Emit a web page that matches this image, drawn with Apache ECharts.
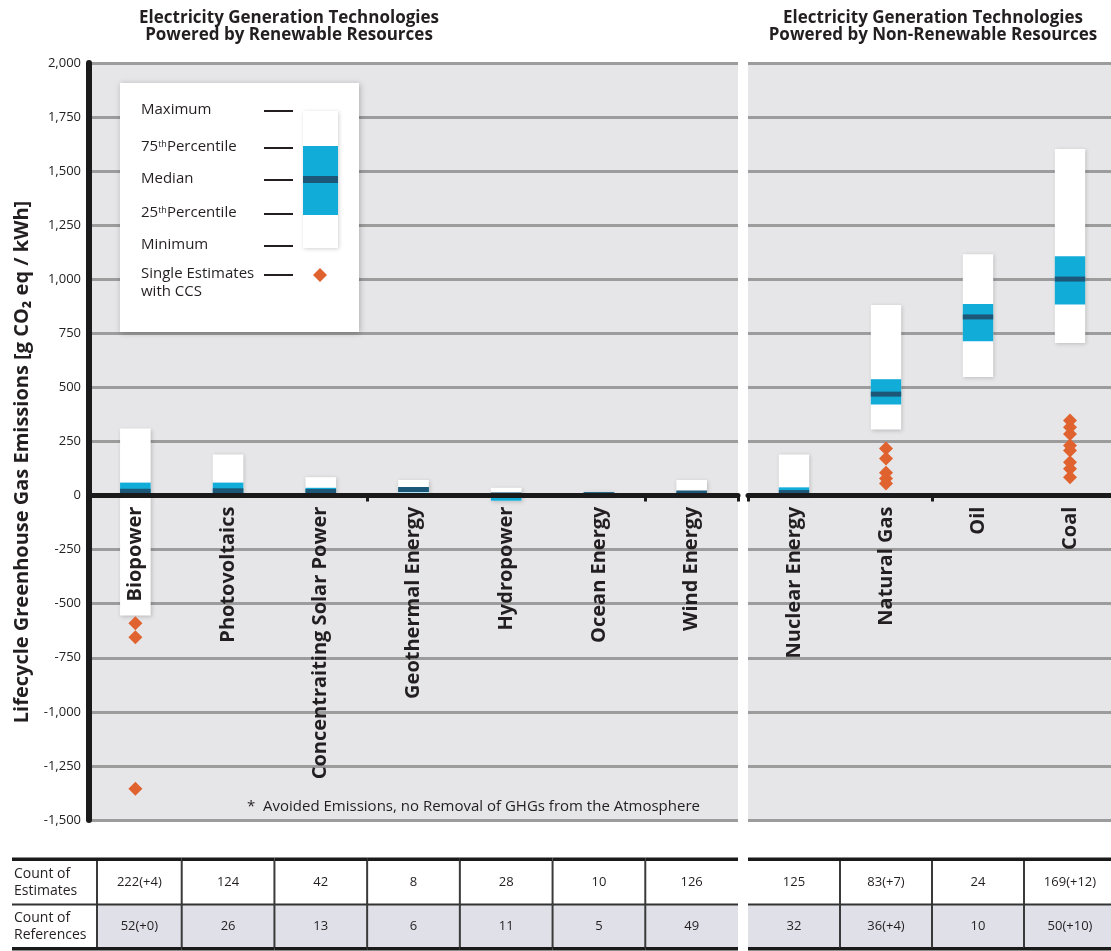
<!DOCTYPE html>
<html><head><meta charset="utf-8">
<script src="https://cdn.jsdelivr.net/npm/echarts@6/dist/echarts.min.js"></script>
<style>html,body{margin:0;padding:0;background:#fff}#c{width:1111px;height:951px}</style>
</head><body><div id="c"></div>
<script>
// ---------- DATA ----------
const renewCats = ['Biopower','Photovoltaics','Concentraiting Solar Power','Geothermal Energy','Hydropower','Ocean Energy','Wind Energy'];
const nonRenewCats = ['Nuclear Energy','Natural Gas','Oil','Coal'];
// [minimum, 25th percentile, median, 75th percentile, maximum]  g CO2 eq / kWh
const biopower      = [-555, 10, 20, 60, 310];
const photovoltaics = [5, 12, 22, 60, 190];
const csp           = [5, 8, 19, 36, 85];
const geothermal    = [6, 15, 28, 38, 72];
const hydropower    = [-24, -24, 3, 6, 36];
const ocean         = [2, 6, 10, 14, 16];
const wind          = [2, 8, 12, 16, 72];
const nuclear       = [1, 8, 14, 38, 190];
const naturalGas    = [305, 421, 469, 538, 881];
const oil           = [548, 714, 826, 886, 1116];
const coal          = [705, 883, 1001, 1107, 1602];
const renewStats = [biopower, photovoltaics, csp, geothermal, hydropower, ocean, wind];
const nonRenewStats = [nuclear, naturalGas, oil, coal];
// single estimates with CCS: [category index, value]
const renewCCS = [[0, -590], [0, -655], [0, -1355]];
const nonRenewCCS = [[1, 218], [1, 171], [1, 106], [1, 79], [1, 56],
                     [3, 347], [3, 316], [3, 285], [3, 231], [3, 208], [3, 154], [3, 124], [3, 85]];
const yMin = -1500, yMax = 2000, yStep = 250;
const rowLabels = ['Count of\nEstimates', 'Count of\nReferences'];
const renewEstimates = ['222(+4)', '124', '42', '8', '28', '10', '126'];
const renewReferences = ['52(+0)', '26', '13', '6', '11', '5', '49'];
const nonRenewEstimates = ['125', '83(+7)', '24', '169(+12)'];
const nonRenewReferences = ['32', '36(+4)', '10', '50(+10)'];
const yTitle = 'Lifecycle Greenhouse Gas Emissions [g CO\u2082 eq / kWh]';
const panelTitles = ['Electricity Generation Technologies\nPowered by Renewable Resources',
                     'Electricity Generation Technologies\nPowered by Non-Renewable Resources'];
const footnote = '*  Avoided Emissions, no Removal of GHGs from the Atmosphere';

// ---------- STYLE ----------
const FONT = "'Open Sans', 'DejaVu Sans', sans-serif";
const TXT = '#231f20';
const BLUE = '#12acd9', DARK = '#1d5777', WHITE = '#ffffff', CCS = '#e0622f';
const BG = '#e6e6e8', GRIDLINE = '#9c9c9c', AXIS = '#1a1a1a';

function makeBoxRenderer(cats) {
  return function (params, api) {
    const x = api.value(0);
    const mn = api.value(1), q1 = api.value(2), md = api.value(3), q3 = api.value(4), mx = api.value(5);
    const w = api.size([1, 0])[0] * 0.33;
    const pMin = api.coord([x, mn]), pMax = api.coord([x, mx]);
    const pQ1 = api.coord([x, q1]), pQ3 = api.coord([x, q3]), pMd = api.coord([x, md]);
    const pZero = api.coord([x, 0]);
    const cx = pMin[0], left = cx - w / 2;
    const mTop = Math.max(pMd[1] - 2.5, pMax[1]);
    const mBot = Math.min(pMd[1] + 2.5, pMin[1]);
    return {
      type: 'group',
      children: [
        { type: 'rect', shape: { x: left, y: pMax[1], width: w, height: pMin[1] - pMax[1] },
          style: { fill: WHITE, shadowBlur: 4, shadowColor: 'rgba(0,0,0,0.18)', shadowOffsetX: 1, shadowOffsetY: 1 } },
        { type: 'rect', shape: { x: left, y: pQ3[1], width: w, height: pQ1[1] - pQ3[1] }, style: { fill: BLUE } },
        { type: 'rect', shape: { x: left, y: mTop, width: w, height: Math.max(0, mBot - mTop) }, style: { fill: DARK } },
        { type: 'text', x: cx, y: pZero[1] + 11, rotation: Math.PI / 2,
          style: { text: cats[params.dataIndex], fill: TXT, fontSize: 20, fontWeight: 'bold', fontFamily: FONT,
                   align: 'right', textAlign: 'right', verticalAlign: 'middle', textVerticalAlign: 'middle' } }
      ]
    };
  };
}

function makeCellRenderer(rowsText, withLabels) {
  return function (params, api) {
    const c = api.value(0), r = api.value(1);
    const p = api.coord([c, r]);
    const s = api.size([1, 1]);
    let x0 = p[0] - s[0] / 2;
    const x1 = p[0] + s[0] / 2;
    const y0 = p[1] - s[1] / 2, y1 = p[1] + s[1] / 2;
    const children = [];
    let lineLeft = x0;
    if (withLabels && c === 0) {
      x0 += 8;
      lineLeft = 12;
      children.push({ type: 'rect', shape: { x: 12, y: y0, width: x0 - 12, height: y1 - y0 }, style: { fill: '#fff' } });
      children.push({ type: 'text', x: 14, y: p[1],
        style: { text: rowLabels[r], fill: TXT, fontSize: 14, fontFamily: FONT, lineHeight: 17,
                 verticalAlign: 'middle', textVerticalAlign: 'middle', align: 'left', textAlign: 'left' } });
    }
    children.push({ type: 'rect', shape: { x: x0, y: y0, width: x1 - x0, height: y1 - y0 },
      style: { fill: r === 1 ? '#e0e0e9' : '#ffffff' } });
    children.push({ type: 'text', x: (x0 + x1) / 2, y: p[1],
      style: { text: rowsText[r][c], fill: TXT, fontSize: 13, fontFamily: FONT,
               align: 'center', textAlign: 'center', verticalAlign: 'middle', textVerticalAlign: 'middle' } });
    if (c > 0 || withLabels) {
      children.push({ type: 'rect', shape: { x: x0 - 1, y: y0, width: 2, height: y1 - y0 }, style: { fill: '#3a3a3a' } });
    }
    if (r === 0) {
      children.push({ type: 'rect', shape: { x: lineLeft, y: y0 - 3.5, width: x1 - lineLeft, height: 3.5 }, style: { fill: AXIS } });
    } else {
      children.push({ type: 'rect', shape: { x: lineLeft, y: y0 - 1, width: x1 - lineLeft, height: 2 }, style: { fill: '#333' } });
      children.push({ type: 'rect', shape: { x: lineLeft, y: y1 - 1, width: x1 - lineLeft, height: 3.5 }, style: { fill: AXIS } });
    }
    return { type: 'group', children: children };
  };
}

function plotX(gridIndex, cats) {
  return {
    type: 'category', gridIndex: gridIndex, data: cats, z: 10,
    axisLine: { onZero: true, lineStyle: { color: AXIS, width: 5 } },
    axisTick: { show: true, length: 6, lineStyle: { color: AXIS, width: 3 } },
    axisLabel: { show: false },
    splitLine: { show: false }
  };
}
function plotY(gridIndex, showAxis) {
  return {
    type: 'value', gridIndex: gridIndex, min: yMin, max: yMax, interval: yStep,
    axisLine: { show: showAxis, lineStyle: { color: AXIS, width: 6 } },
    axisTick: { show: false },
    axisLabel: { show: showAxis, fontSize: 13, color: '#222', margin: 8, fontFamily: FONT,
                 formatter: v => v.toLocaleString('en-US') },
    splitLine: { show: true, lineStyle: { color: GRIDLINE, width: 3 } }
  };
}
function tableX(gridIndex, cats) {
  return { type: 'category', gridIndex: gridIndex, data: cats, show: false };
}
function tableY(gridIndex) {
  return { type: 'category', gridIndex: gridIndex, data: ['Estimates', 'References'], inverse: true, show: false };
}

const legendY = { max: 111, q3: 148, med: 180, q1: 214, min: 246, ccs: 275 };
const supRich = { s: { fontSize: 9, verticalAlign: 'top', fontFamily: FONT, fill: TXT, color: TXT } };
function legendText(y, text, rich) {
  return { type: 'text', x: 141, y: y, z: 21,
    style: { text: text, fill: TXT, fontSize: 15, fontFamily: FONT, verticalAlign: 'middle', textVerticalAlign: 'middle', rich: rich } };
}
function legendLine(y, x0) {
  return { type: 'rect', z: 21, shape: { x: x0 || 264, y: y - 1, width: 293 - (x0 || 264), height: 2 }, style: { fill: TXT } };
}

const option = {
  backgroundColor: '#ffffff',
  animation: false,
  grid: [
    { left: 89, top: 63, width: 649, height: 757, show: true, backgroundColor: BG, borderWidth: 0, outerBoundsMode: 'none', containLabel: false },
    { left: 748, top: 63, width: 368, height: 757, show: true, backgroundColor: BG, borderWidth: 0, outerBoundsMode: 'none', containLabel: false },
    { left: 89, top: 861, width: 649, height: 87, outerBoundsMode: 'none', containLabel: false },
    { left: 748, top: 861, width: 368, height: 87, outerBoundsMode: 'none', containLabel: false }
  ],
  xAxis: [plotX(0, renewCats), plotX(1, nonRenewCats), tableX(2, renewCats), tableX(3, nonRenewCats)],
  yAxis: [plotY(0, true), plotY(1, false), tableY(2), tableY(3)],
  series: [
    { type: 'custom', xAxisIndex: 0, yAxisIndex: 0, z: 2, clip: false, renderItem: makeBoxRenderer(renewCats),
      encode: { x: 0, y: [1, 2, 3, 4, 5] }, data: renewStats.map((s, i) => [i].concat(s)) },
    { type: 'custom', xAxisIndex: 1, yAxisIndex: 1, z: 2, clip: false, renderItem: makeBoxRenderer(nonRenewCats),
      encode: { x: 0, y: [1, 2, 3, 4, 5] }, data: nonRenewStats.map((s, i) => [i].concat(s)) },
    { type: 'scatter', xAxisIndex: 0, yAxisIndex: 0, z: 3, symbol: 'diamond', symbolSize: 14,
      itemStyle: { color: CCS, opacity: 1 }, data: renewCCS },
    { type: 'scatter', xAxisIndex: 1, yAxisIndex: 1, z: 3, symbol: 'diamond', symbolSize: 14,
      itemStyle: { color: CCS, opacity: 1 }, data: nonRenewCCS },
    { type: 'custom', xAxisIndex: 2, yAxisIndex: 2, clip: false,
      renderItem: makeCellRenderer([renewEstimates, renewReferences], true),
      encode: { x: 0, y: 1 },
      data: [].concat(renewEstimates.map((_, i) => [i, 0]), renewReferences.map((_, i) => [i, 1])) },
    { type: 'custom', xAxisIndex: 3, yAxisIndex: 3, clip: false,
      renderItem: makeCellRenderer([nonRenewEstimates, nonRenewReferences], false),
      encode: { x: 0, y: 1 },
      data: [].concat(nonRenewEstimates.map((_, i) => [i, 0]), nonRenewReferences.map((_, i) => [i, 1])) }
  ],
  graphic: [
    { type: 'text', x: 289, y: 10, z: 30,
      style: { text: panelTitles[0], fill: TXT, fontSize: 17, fontWeight: 'bold', fontFamily: FONT, lineHeight: 17,
               align: 'center', textAlign: 'center' } },
    { type: 'text', x: 933, y: 10, z: 30,
      style: { text: panelTitles[1], fill: TXT, fontSize: 17, fontWeight: 'bold', fontFamily: FONT, lineHeight: 17,
               align: 'center', textAlign: 'center' } },
    { type: 'text', x: 22, y: 462, rotation: Math.PI / 2, z: 30,
      style: { text: yTitle, fill: TXT, fontSize: 20, fontWeight: 'bold', fontFamily: FONT,
               align: 'center', textAlign: 'center', verticalAlign: 'middle', textVerticalAlign: 'middle' } },
    { type: 'text', x: 247, y: 807, z: 30,
      style: { text: footnote, fill: TXT, fontSize: 15, fontFamily: FONT, verticalAlign: 'middle', textVerticalAlign: 'middle' } },
    // legend
    { type: 'rect', z: 20, shape: { x: 120, y: 83, width: 239, height: 249 },
      style: { fill: '#ffffff', shadowBlur: 6, shadowColor: 'rgba(0,0,0,0.25)', shadowOffsetX: 1, shadowOffsetY: 1 } },
    legendText(legendY.max - 1, 'Maximum'),
    legendText(legendY.q3 - 1, '75{s|th}Percentile', supRich),
    legendText(legendY.med - 1, 'Median'),
    legendText(legendY.q1 - 1, '25{s|th}Percentile', supRich),
    legendText(legendY.min - 1, 'Minimum'),
    { type: 'text', x: 141, y: 265, z: 21,
      style: { text: 'Single Estimates\nwith CCS', fill: TXT, fontSize: 15, fontFamily: FONT, lineHeight: 18 } },
    legendLine(legendY.max), legendLine(legendY.q3), legendLine(legendY.med),
    legendLine(legendY.q1), legendLine(legendY.min), legendLine(legendY.ccs, 264),
    { type: 'rect', z: 21, shape: { x: 303, y: 111, width: 35, height: 137 },
      style: { fill: '#ffffff', shadowBlur: 4, shadowColor: 'rgba(0,0,0,0.18)', shadowOffsetX: 1, shadowOffsetY: 1 } },
    { type: 'rect', z: 21, shape: { x: 303, y: 146, width: 35, height: 69 }, style: { fill: BLUE } },
    { type: 'rect', z: 21, shape: { x: 303, y: 176, width: 35, height: 7 }, style: { fill: DARK } },
    { type: 'polygon', z: 21, shape: { points: [[320, 268], [327, 275], [320, 282], [313, 275]] }, style: { fill: CCS } }
  ]
};

const chart = echarts.init(document.getElementById('c'), null, { renderer: 'canvas' });
chart.setOption(option);
</script>
</body></html>
